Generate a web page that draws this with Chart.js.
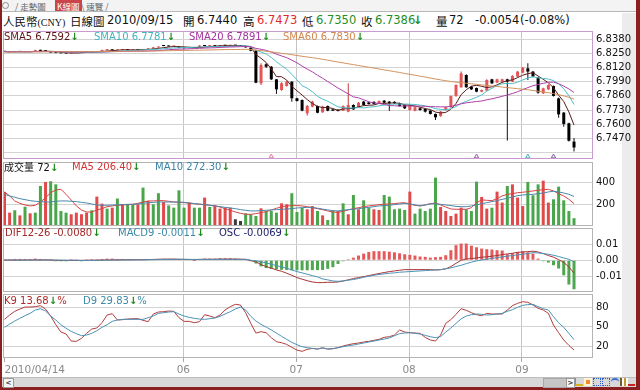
<!DOCTYPE html>
<html>
<head>
<meta charset="utf-8">
<script src="https://cdn.jsdelivr.net/npm/chart.js@4.4.1/dist/chart.umd.min.js"></script>
<style>
  html, body { margin: 0; padding: 0; }
  body { width: 640px; height: 390px; position: relative; overflow: hidden; background: #8a1f1f; font-family: "DejaVu Sans", sans-serif; }
  .abs { position: absolute; }
  #bg { left: 2px; top: 0; width: 634px; height: 387px; background: #fff; }
  #strip { left: 622px; top: 13px; width: 14px; height: 364px; background: #ececec; }
  #tabbar { left: 2px; top: 0; width: 634px; height: 11px; background: #f3f3f3; border-bottom: 1px solid #b9b9b9; }
  .tab { position: absolute; top: 0; height: 11px; line-height: 11px; font: 8.5px "Noto Sans CJK TC", sans-serif; color: #666; white-space: nowrap; }
  .tab.act { background: #c9454a; color: #fff; padding: 0 2px; }
  .hd { position: absolute; top: 13px; line-height: 14px; white-space: nowrap; color: #111; }
  .num { font: 11.5px "DejaVu Sans", sans-serif; }
  .cjk { font: 11.5px "Noto Sans CJK TC", sans-serif; }
  .lg { position: absolute; font: 10px "DejaVu Sans", sans-serif; line-height: 12px; white-space: nowrap; }
  .lg .c { font-family: "Noto Sans CJK TC", sans-serif; }
  .dn { color: #1b8a1b; font-weight: bold; }
  canvas { position: absolute; left: 3px; }
  #sb { left: 2px; top: 377px; width: 634px; height: 10px; background: #d8d8d8; border-top: 1px solid #bdbdbd; box-sizing: border-box; }
  .btn { position: absolute; top: 378px; height: 8px; background: #f6f6f6; border: 1px solid #9a9a9a; font: bold 7px "DejaVu Sans", sans-serif; line-height: 8px; text-align: center; color: #333; }
  .ic { position: absolute; top: 378px; width: 8px; height: 8px; box-sizing: border-box; }
</style>
</head>
<body>
<div id="bg" class="abs"></div>
<div id="strip" class="abs"></div>
<div id="tabbar" class="abs"></div>
<div class="abs" style="left:2px;top:2px;width:5px;height:5px;border:1px solid #8a8a8a;border-radius:50%;"></div>
<span class="tab" style="left:15px;">/ 走勢圖</span>
<span class="tab act" style="left:55px;">K線圖</span>
<span class="tab" style="left:81px;">\ 速覽 /</span>

<!-- header line -->
<span class="hd cjk" style="left:3px;">人民幣<span style="font:10px 'Liberation Serif',serif;">(CNY)</span></span>
<span class="hd cjk" style="left:70px;">日線圖</span>
<span class="hd num" style="left:107px;">2010/09/15</span>
<span class="hd cjk" style="left:183px;">開</span>
<span class="hd num" style="left:197px;">6.7440</span>
<span class="hd cjk" style="left:243px;">高</span>
<span class="hd num" style="left:257px;color:#dd2b2b;">6.7473</span>
<span class="hd cjk" style="left:302px;">低</span>
<span class="hd num" style="left:316px;color:#1f8f1f;">6.7350</span>
<span class="hd cjk" style="left:361px;">收</span>
<span class="hd num" style="left:375px;color:#1f8f1f;">6.7386</span>
<span class="hd num dn" style="left:413px;">↓</span>
<span class="hd cjk" style="left:436px;">量</span>
<span class="hd num" style="left:449px;">72</span>
<span class="hd num" style="left:475px;">-0.0054</span>
<span class="hd num" style="left:520px;">(-0.08%)</span>

<canvas id="cPrice" width="632" height="128" style="top:31px;width:632px;height:128px;"></canvas>
<canvas id="cVol" width="632" height="64" style="top:162px;width:632px;height:64px;"></canvas>
<canvas id="cMacd" width="632" height="64" style="top:228px;width:632px;height:64px;"></canvas>
<canvas id="cKd" width="632" height="84" style="top:294px;width:632px;height:84px;"></canvas>

<!-- panel legends -->
<span class="lg" style="left:4px;top:31px;color:#5e1414;">SMA5 6.7592<span class="dn">↓</span></span>
<span class="lg" style="left:94px;top:31px;color:#3fb5c0;">SMA10 6.7781<span class="dn">↓</span></span>
<span class="lg" style="left:189px;top:31px;color:#a3339d;">SMA20 6.7891<span class="dn">↓</span></span>
<span class="lg" style="left:283px;top:31px;color:#d3874f;">SMA60 6.7830<span class="dn">↓</span></span>

<span class="lg" style="left:4px;top:161px;color:#111;"><span class="c">成交量</span> 72<span class="dn">↓</span></span>
<span class="lg" style="left:72px;top:161px;color:#d23434;">MA5 206.40<span class="dn">↓</span></span>
<span class="lg" style="left:155px;top:161px;color:#3c82a6;">MA10 272.30<span class="dn">↓</span></span>

<span class="lg" style="left:5px;top:227px;color:#a32a2a;">DIF12-26 -0.0080<span class="dn">↓</span></span>
<span class="lg" style="left:118px;top:227px;color:#3c8aa8;">MACD9 -0.0011<span class="dn">↓</span></span>
<span class="lg" style="left:219px;top:227px;color:#23236e;">OSC -0.0069<span class="dn">↓</span></span>

<span class="lg" style="left:4px;top:295px;color:#b02a2a;">K9 13.68<span class="dn">↓</span>%</span>
<span class="lg" style="left:83px;top:295px;color:#3c8aa8;">D9 29.83<span class="dn">↓</span>%</span>

<!-- bottom scroll bar -->
<div id="sb" class="abs"></div>
<div class="btn" style="left:3px;width:9px;">&lt;</div>
<div class="abs" style="left:543px;top:378px;width:22px;height:8px;background:#c6c6c6;border:1px solid #a8a8a8;"></div>
<div class="btn" style="left:566px;width:7px;">&gt;</div>
<div class="ic" style="left:575px;border-bottom:2px solid #d6b21f;border-left:1px solid #7aa63a;"></div>
<div class="ic" style="left:584px;background:#f08a2a;border:2px solid #fff3d8;"></div>
<div class="ic" style="left:593px;border:1px dotted #2a5bd0;"></div>
<div class="ic" style="left:602px;border:1px dotted #2a5bd0;"></div>
<div class="ic" style="left:611px;border-top:2px solid #3a6bd6;border-radius:50% 50% 0 0;"></div>
<div class="ic" style="left:620px;background:linear-gradient(90deg,#7a5b22 0 2px,#fff 2px 4px,#c29a2a 4px 6px,#fff 6px);"></div>
<div class="ic" style="left:628px;width:7px;border-bottom:2px solid #cc2222;"></div>

<script>
// ---- data (2010/04/14 .. 2010/09/15, one entry per trading day) ----
const opens = [
  6.8268, 6.8265, 6.8262, 6.8267, 6.8263, 6.8266, 6.8268, 6.8281, 6.8275, 6.8268,
  6.8258, 6.8255, 6.8256, 6.8251, 6.8255, 6.8258, 6.8263, 6.8266, 6.8262, 6.8270,
  6.8280, 6.8285, 6.8278, 6.8282, 6.8286, 6.8280, 6.8284, 6.8281, 6.8288, 6.8296,
  6.8304, 6.8322, 6.8319, 6.8314, 6.8312, 6.8302, 6.8298, 6.8304, 6.8305, 6.8325,
  6.8318, 6.8320, 6.8317, 6.8323, 6.8321, 6.8324, 6.8322, 6.8318,
  6.8300, 6.8275, 6.7976, 6.8150, 6.8128, 6.8012, 6.7914, 6.7951, 6.7990, 6.7838,
  6.7822, 6.7700, 6.7761, 6.7767,
  6.7709, 6.7767, 6.7736, 6.7733, 6.7724, 6.7715, 6.7776, 6.7755, 6.7807, 6.7800,
  6.7805, 6.7791, 6.7816, 6.7807, 6.7805, 6.7791, 6.7776, 6.7730, 6.7724, 6.7746,
  6.7739, 6.7724, 6.7694, 6.7675, 6.7730, 6.7755, 6.7859, 6.7939, 6.8052, 6.7945,
  6.7932, 6.7899, 6.7908, 6.8012, 6.7982, 6.7991, 6.8012, 6.7991, 6.8037, 6.8073,
  6.8113, 6.8083, 6.8028, 6.7883, 6.7920, 6.7951, 6.7837, 6.7706, 6.7608, 6.7440
];
const highs = [
  6.8270, 6.8267, 6.8270, 6.8269, 6.8268, 6.8268, 6.8284, 6.8283, 6.8277, 6.8270,
  6.8261, 6.8258, 6.8258, 6.8259, 6.8261, 6.8266, 6.8268, 6.8268, 6.8270, 6.8284,
  6.8288, 6.8287, 6.8286, 6.8289, 6.8288, 6.8287, 6.8286, 6.8291, 6.8299, 6.8308,
  6.8313, 6.8325, 6.8321, 6.8319, 6.8314, 6.8304, 6.8306, 6.8306, 6.8326, 6.8327,
  6.8323, 6.8322, 6.8326, 6.8325, 6.8327, 6.8326, 6.8324, 6.8320,
  6.8305, 6.8282, 6.8159, 6.8160, 6.8135, 6.8015, 6.7985, 6.8000, 6.7995, 6.7842,
  6.7827, 6.7775, 6.7815, 6.7772,
  6.7770, 6.7772, 6.7742, 6.7738, 6.7772, 6.7975, 6.7782, 6.7803, 6.7812, 6.7806,
  6.7810, 6.7818, 6.7821, 6.7812, 6.7810, 6.7796, 6.7781, 6.7782, 6.7760, 6.7751,
  6.7744, 6.7729, 6.7699, 6.7720, 6.7760, 6.7864, 6.7966, 6.8083, 6.8058, 6.7950,
  6.7937, 6.7919, 6.8012, 6.8018, 6.8018, 6.8018, 6.8018, 6.8049, 6.8089, 6.8125,
  6.8159, 6.8088, 6.8033, 6.7935, 6.7966, 6.7956, 6.7845, 6.7712, 6.7613, 6.7473
];
const lows = [
  6.8262, 6.8260, 6.8261, 6.8262, 6.8261, 6.8261, 6.8266, 6.8272, 6.8268, 6.8255,
  6.8252, 6.8249, 6.8247, 6.8249, 6.8253, 6.8256, 6.8261, 6.8259, 6.8260, 6.8268,
  6.8278, 6.8276, 6.8276, 6.8280, 6.8277, 6.8278, 6.8279, 6.8279, 6.8286, 6.8294,
  6.8302, 6.8316, 6.8311, 6.8312, 6.8298, 6.8295, 6.8296, 6.8297, 6.8303, 6.8315,
  6.8316, 6.8314, 6.8315, 6.8318, 6.8319, 6.8319, 6.8315, 6.8303,
  6.8270, 6.7976, 6.7960, 6.8116, 6.8005, 6.7877, 6.7908, 6.7945, 6.7807, 6.7808,
  6.7718, 6.7680, 6.7756, 6.7700,
  6.7705, 6.7718, 6.7720, 6.7716, 6.7720, 6.7710, 6.7730, 6.7750, 6.7770, 6.7780,
  6.7780, 6.7786, 6.7792, 6.7721, 6.7786, 6.7762, 6.7740, 6.7725, 6.7718, 6.7724,
  6.7708, 6.7688, 6.7638, 6.7668, 6.7725, 6.7750, 6.7853, 6.7934, 6.7934, 6.7915,
  6.7894, 6.7894, 6.7903, 6.7970, 6.7977, 6.7986, 6.7450, 6.7986, 6.8032, 6.8068,
  6.8006, 6.8030, 6.7880, 6.7878, 6.7915, 6.7855, 6.7660, 6.7577, 6.7440, 6.7350
];
const closes = [
  6.8265, 6.8262, 6.8268, 6.8264, 6.8266, 6.8263, 6.8280, 6.8274, 6.8270, 6.8258,
  6.8255, 6.8252, 6.8250, 6.8256, 6.8258, 6.8264, 6.8266, 6.8262, 6.8268, 6.8281,
  6.8285, 6.8279, 6.8283, 6.8286, 6.8280, 6.8284, 6.8281, 6.8288, 6.8296, 6.8305,
  6.8310, 6.8318, 6.8314, 6.8316, 6.8302, 6.8298, 6.8304, 6.8300, 6.8322, 6.8318,
  6.8320, 6.8317, 6.8323, 6.8321, 6.8324, 6.8322, 6.8318, 6.8306,
  6.8275, 6.7981, 6.8144, 6.8128, 6.8012, 6.7920, 6.7976, 6.7990, 6.7838, 6.7813,
  6.7724, 6.7767, 6.7807, 6.7705,
  6.7761, 6.7724, 6.7724, 6.7722, 6.7767, 6.7776, 6.7736, 6.7797, 6.7776, 6.7785,
  6.7785, 6.7813, 6.7797, 6.7791, 6.7791, 6.7767, 6.7746, 6.7776, 6.7755, 6.7730,
  6.7715, 6.7694, 6.7663, 6.7715, 6.7755, 6.7859, 6.7960, 6.8067, 6.7939, 6.7920,
  6.7899, 6.7914, 6.8006, 6.7975, 6.8012, 6.8012, 6.7991, 6.8043, 6.8083, 6.8119,
  6.8083, 6.8037, 6.7890, 6.7929, 6.7960, 6.7860, 6.7690, 6.7602, 6.7448, 6.7386
];
const sma5 = [
  6.8266, 6.8265, 6.8265, 6.8265, 6.8265, 6.8265, 6.8268, 6.8269, 6.8271, 6.8269,
  6.8267, 6.8262, 6.8257, 6.8254, 6.8254, 6.8256, 6.8259, 6.8261, 6.8264, 6.8268,
  6.8272, 6.8275, 6.8279, 6.8283, 6.8283, 6.8282, 6.8283, 6.8284, 6.8286, 6.8291,
  6.8296, 6.8303, 6.8309, 6.8313, 6.8312, 6.8310, 6.8307, 6.8304, 6.8305, 6.8308,
  6.8313, 6.8315, 6.8320, 6.8320, 6.8321, 6.8321, 6.8322, 6.8318,
  6.8309, 6.8240, 6.8205, 6.8167, 6.8108, 6.8037, 6.8036, 6.8005, 6.7947, 6.7907,
  6.7868, 6.7826, 6.7790, 6.7763,
  6.7753, 6.7753, 6.7744, 6.7727, 6.7740, 6.7743, 6.7745, 6.7760, 6.7770, 6.7774,
  6.7776, 6.7791, 6.7791, 6.7794, 6.7795, 6.7792, 6.7778, 6.7774, 6.7767, 6.7755,
  6.7744, 6.7734, 6.7711, 6.7703, 6.7708, 6.7737, 6.7790, 6.7871, 6.7916, 6.7949,
  6.7957, 6.7948, 6.7936, 6.7943, 6.7961, 6.7984, 6.7999, 6.8007, 6.8028, 6.8050,
  6.8064, 6.8073, 6.8042, 6.8012, 6.7980, 6.7935, 6.7866, 6.7808, 6.7712, 6.7592
];
const sma10 = [
  6.8266, 6.8266, 6.8265, 6.8265, 6.8265, 6.8266, 6.8267, 6.8267, 6.8268, 6.8267,
  6.8266, 6.8265, 6.8263, 6.8263, 6.8262, 6.8262, 6.8261, 6.8259, 6.8259, 6.8261,
  6.8264, 6.8267, 6.8270, 6.8274, 6.8276, 6.8277, 6.8279, 6.8282, 6.8285, 6.8287,
  6.8289, 6.8293, 6.8297, 6.8300, 6.8302, 6.8303, 6.8305, 6.8307, 6.8309, 6.8310,
  6.8312, 6.8311, 6.8312, 6.8313, 6.8315, 6.8317, 6.8319, 6.8319,
  6.8315, 6.8281, 6.8263, 6.8245, 6.8213, 6.8173, 6.8138, 6.8105, 6.8057, 6.8008,
  6.7953, 6.7931, 6.7898, 6.7855,
  6.7830, 6.7811, 6.7785, 6.7759, 6.7752, 6.7748, 6.7749, 6.7752, 6.7749, 6.7757,
  6.7760, 6.7768, 6.7776, 6.7782, 6.7785, 6.7784, 6.7785, 6.7783, 6.7781, 6.7775,
  6.7768, 6.7756, 6.7743, 6.7735, 6.7732, 6.7741, 6.7762, 6.7791, 6.7810, 6.7829,
  6.7847, 6.7869, 6.7904, 6.7930, 6.7955, 6.7971, 6.7974, 6.7972, 6.7986, 6.8006,
  6.8024, 6.8036, 6.8025, 6.8020, 6.8015, 6.8000, 6.7970, 6.7925, 6.7862, 6.7781
];
const sma20 = [
  6.8267, 6.8267, 6.8266, 6.8266, 6.8266, 6.8266, 6.8267, 6.8267, 6.8267, 6.8266,
  6.8266, 6.8266, 6.8264, 6.8264, 6.8264, 6.8264, 6.8264, 6.8263, 6.8264, 6.8264,
  6.8265, 6.8266, 6.8267, 6.8269, 6.8269, 6.8270, 6.8270, 6.8271, 6.8272, 6.8274,
  6.8277, 6.8280, 6.8284, 6.8287, 6.8289, 6.8290, 6.8292, 6.8295, 6.8297, 6.8299,
  6.8301, 6.8302, 6.8305, 6.8307, 6.8309, 6.8310, 6.8312, 6.8313,
  6.8312, 6.8296, 6.8288, 6.8278, 6.8263, 6.8243, 6.8227, 6.8211, 6.8188, 6.8164,
  6.8134, 6.8106, 6.8081, 6.8050,
  6.8022, 6.7992, 6.7962, 6.7932, 6.7905, 6.7878, 6.7851, 6.7842, 6.7824, 6.7806,
  6.7795, 6.7790, 6.7781, 6.7771, 6.7769, 6.7766, 6.7767, 6.7768, 6.7765, 6.7766,
  6.7764, 6.7762, 6.7760, 6.7759, 6.7759, 6.7763, 6.7774, 6.7787, 6.7796, 6.7802,
  6.7808, 6.7813, 6.7824, 6.7833, 6.7844, 6.7856, 6.7868, 6.7882, 6.7898, 6.7918,
  6.7936, 6.7953, 6.7965, 6.7975, 6.7985, 6.7986, 6.7972, 6.7949, 6.7924, 6.7891
];
const sma60 = [
  6.8262, 6.8262, 6.8263, 6.8263, 6.8263, 6.8264, 6.8264, 6.8264, 6.8265, 6.8265,
  6.8265, 6.8265, 6.8265, 6.8266, 6.8266, 6.8266, 6.8266, 6.8267, 6.8267, 6.8267,
  6.8268, 6.8268, 6.8269, 6.8269, 6.8270, 6.8270, 6.8271, 6.8271, 6.8272, 6.8273,
  6.8273, 6.8274, 6.8275, 6.8276, 6.8277, 6.8277, 6.8278, 6.8279, 6.8280, 6.8281,
  6.8282, 6.8283, 6.8284, 6.8285, 6.8286, 6.8286, 6.8287, 6.8288,
  6.8286, 6.8280, 6.8276, 6.8270, 6.8264, 6.8258, 6.8251, 6.8245, 6.8238, 6.8231,
  6.8224, 6.8217, 6.8211, 6.8204,
  6.8196, 6.8188, 6.8179, 6.8171, 6.8163, 6.8155, 6.8147, 6.8139, 6.8131, 6.8123,
  6.8115, 6.8107, 6.8099, 6.8091, 6.8083, 6.8075, 6.8066, 6.8058, 6.8050, 6.8041,
  6.8033, 6.8024, 6.8015, 6.8007, 6.7999, 6.7992, 6.7986, 6.7981, 6.7976, 6.7971,
  6.7966, 6.7961, 6.7956, 6.7951, 6.7946, 6.7941, 6.7936, 6.7931, 6.7926, 6.7921,
  6.7916, 6.7910, 6.7903, 6.7896, 6.7889, 6.7881, 6.7871, 6.7860, 6.7847, 6.7830
];

const volume = [
  314, 123, 145, 98, 178, 117, 123, 369, 406, 412,
  384, 138, 123, 108, 123, 108, 123, 145, 271, 206,
  160, 169, 253, 200, 200, 200, 200, 354, 230, 200,
  302, 222, 190, 169, 329, 169, 216, 169, 169, 262,
  175, 190, 160, 169, 169, 62, 46, 117, 108, 92,
  163, 138, 138, 123, 209, 200, 302, 129, 166, 154,
  184, 138,
  98, 55, 138, 138, 209, 108, 286, 154, 237, 169,
  154, 148, 286, 271, 154, 160, 148, 317, 114, 160,
  138, 160, 446, 175, 138, 92, 114, 169, 154, 138,
  409, 268, 160, 169, 317, 216, 369, 384, 262, 184,
  406, 283, 384, 418, 216, 246, 363, 237, 138, 72
];
// u = up (red), d = down (green), n = unchanged
const volumeDir = [
  'u','u','d','u','d','u','d','d','u','d',
  'd','d','d','u','u','u','u','d','u','u',
  'd','u','d','u','d','d','u','d','u','d',
  'd','u','d','d','d','d','u','d','d','u',
  'd','u','u','u','u','n','n','d','d','d',
  'u','d','d','d','u','u','d','d','d','u',
  'u','d',
  'u','d','d','u','d','u','d','u','d','d',
  'u','u','d','d','d','d','d','u','d','d',
  'd','d','d','u','u','u','u','u','d','d',
  'd','u','u','d','u','u','d','u','u','u',
  'd','d','d','u','u','d','d','d','d','d'
];
const volMa5 = [
  314, 277, 231, 209, 194, 185, 191, 221, 261, 307,
  332, 338, 292, 240, 185, 148, 129, 129, 148, 160,
  178, 185, 191, 194, 197, 200, 209, 221, 231, 231,
  234, 234, 228, 221, 218, 215, 212, 206, 200, 197,
  191, 185, 175, 160, 145, 129, 117, 108, 108, 114,
  123, 132, 148, 163, 178, 185, 188, 188, 185, 178,
  170, 160,
  150, 139, 129, 126, 135, 148, 160, 169, 178, 185,
  191, 197, 200, 203, 206, 212, 215, 203, 191, 185,
  194, 206, 212, 194, 175, 157, 154, 154, 154, 169,
  215, 240, 237, 234, 252, 277, 292, 298, 307, 311,
  317, 323, 329, 335, 338, 323, 298, 277, 246, 206.4
];
const volMa10 = [
  292, 277, 265, 252, 243, 234, 228, 225, 221, 221,
  228, 231, 231, 228, 225, 218, 212, 203, 194, 191,
  191, 194, 194, 197, 200, 200, 203, 209, 215, 218,
  221, 221, 221, 221, 221, 218, 212, 206, 203, 197,
  191, 185, 178, 172, 166, 160, 151, 145, 139, 139,
  142, 145, 148, 151, 154, 157, 160, 166, 169, 172,
  170, 164,
  156, 148, 142, 139, 145, 151, 154, 160, 166, 172,
  178, 185, 188, 191, 197, 203, 209, 203, 194, 185,
  194, 203, 206, 200, 194, 188, 181, 178, 178, 185,
  194, 206, 215, 225, 234, 246, 255, 267, 280, 286,
  289, 292, 298, 304, 314, 320, 314, 304, 292, 272.3
];

const dif = [
  0.0001, 0.0001, 0.0001, 0.0001, 0.0001, 0.0001, 0.0002, 0.0002, 0.0002, 0.0001,
  0.0000, -0.0001, -0.0001, -0.0001, -0.0001, -0.0001, 0.0000, 0.0000, 0.0000, 0.0001,
  0.0002, 0.0002, 0.0002, 0.0003, 0.0003, 0.0003, 0.0003, 0.0003, 0.0004, 0.0005,
  0.0006, 0.0007, 0.0007, 0.0007, 0.0006, 0.0005, 0.0005, 0.0004, 0.0005, 0.0006,
  0.0006, 0.0006, 0.0007, 0.0007, 0.0007, 0.0007, 0.0006, 0.0005,
  -0.0002, -0.0010, -0.0027, -0.0039, -0.0049, -0.0060, -0.0068, -0.0080, -0.0093, -0.0107,
  -0.0117, -0.0126, -0.0134, -0.0138,
  -0.0138, -0.0136, -0.0136, -0.0134, -0.0128, -0.0121, -0.0113, -0.0107, -0.0101, -0.0095,
  -0.0088, -0.0082, -0.0076, -0.0070, -0.0066, -0.0062, -0.0058, -0.0058, -0.0058, -0.0058,
  -0.0058, -0.0058, -0.0060, -0.0058, -0.0053, -0.0039, -0.0019, 0.0000, 0.0008, 0.0010,
  0.0014, 0.0019, 0.0021, 0.0025, 0.0029, 0.0035, 0.0039, 0.0043, 0.0049, 0.0051,
  0.0053, 0.0056, 0.0051, 0.0041, 0.0029, 0.0019, 0.0004, -0.0014, -0.0041, -0.0080
];
const macd9 = [
  0.0001, 0.0001, 0.0001, 0.0001, 0.0001, 0.0001, 0.0001, 0.0001, 0.0002, 0.0002,
  0.0001, 0.0001, 0.0000, 0.0000, 0.0000, -0.0001, -0.0001, -0.0001, 0.0000, 0.0000,
  0.0001, 0.0001, 0.0001, 0.0002, 0.0002, 0.0002, 0.0003, 0.0003, 0.0003, 0.0004,
  0.0004, 0.0005, 0.0005, 0.0006, 0.0006, 0.0006, 0.0005, 0.0005, 0.0005, 0.0005,
  0.0005, 0.0005, 0.0006, 0.0006, 0.0006, 0.0006, 0.0006, 0.0006,
  0.0000, -0.0004, -0.0010, -0.0016, -0.0025, -0.0033, -0.0041, -0.0049, -0.0060, -0.0070,
  -0.0078, -0.0086, -0.0095, -0.0103,
  -0.0115, -0.0121, -0.0128, -0.0130, -0.0128, -0.0123, -0.0119, -0.0113, -0.0105, -0.0099,
  -0.0093, -0.0088, -0.0084, -0.0080, -0.0078, -0.0074, -0.0072, -0.0070, -0.0068, -0.0066,
  -0.0064, -0.0062, -0.0060, -0.0058, -0.0053, -0.0047, -0.0039, -0.0031, -0.0021, -0.0012,
  -0.0004, 0.0002, 0.0006, 0.0012, 0.0016, 0.0021, 0.0025, 0.0029, 0.0033, 0.0037,
  0.0041, 0.0047, 0.0045, 0.0041, 0.0037, 0.0031, 0.0023, 0.0014, 0.0006, -0.0011
];
const osc = [
  0.0000, 0.0002, 0.0008, 0.0008, 0.0008, 0.0008, 0.0010, 0.0008, 0.0006, 0.0003,
  -0.0002, -0.0003, -0.0002, 0.0004, 0.0000, -0.0002, 0.0000, 0.0001, 0.0002, 0.0008,
  0.0010, 0.0010, 0.0008, 0.0008, 0.0006, 0.0004, 0.0002, 0.0003, 0.0004, 0.0006,
  0.0008, 0.0008, 0.0008, 0.0008, 0.0006, 0.0004, 0.0002, 0.0000, 0.0008, 0.0010,
  0.0010, 0.0010, 0.0012, 0.0012, 0.0012, 0.0010, 0.0008, 0.0002,
  -0.0002, -0.0020, -0.0038, -0.0048, -0.0053, -0.0057, -0.0059, -0.0060, -0.0062, -0.0062,
  -0.0062, -0.0062, -0.0061, -0.0061,
  -0.0060, -0.0053, -0.0043, -0.0023, -0.0006, 0.0004, 0.0016, 0.0029, 0.0041, 0.0051,
  0.0056, 0.0056, 0.0056, 0.0053, 0.0049, 0.0043, 0.0037, 0.0033, 0.0029, 0.0023,
  0.0021, 0.0016, 0.0019, 0.0021, 0.0031, 0.0062, 0.0093, 0.0103, 0.0103, 0.0090,
  0.0080, 0.0072, 0.0068, 0.0066, 0.0062, 0.0060, 0.0037, 0.0043, 0.0051, 0.0056,
  0.0049, 0.0041, 0.0010, -0.0006, -0.0014, -0.0031, -0.0051, -0.0093, -0.0150, -0.0179
];

const k9 = [
  61.3, 68.0, 73.7, 77.3, 80.4, 80.4, 81.0, 82.5, 77.3, 66.5,
  53.0, 41.7, 38.6, 27.7, 27.2, 31.8, 39.6, 46.3, 47.9, 56.1,
  68.0, 70.1, 60.3, 60.8, 61.8, 62.3, 62.3, 59.8, 57.7, 69.6,
  72.7, 73.2, 74.2, 73.7, 63.9, 58.2, 58.2, 56.1, 57.7, 68.5,
  66.5, 63.9, 68.0, 75.8, 81.0, 84.6, 83.5, 71.6, 55.1, 40.1,
  42.2, 40.6, 32.9, 26.7, 25.1, 22.5, 17.9, 13.7, 11.7, 14.8,
  16.3, 15.3,
  16.9, 15.3, 15.8, 17.4, 20.0, 22.0, 23.6, 24.6, 26.2, 27.2,
  28.7, 30.3, 33.4, 34.4, 37.0, 44.8, 41.7, 40.6, 40.1, 39.6,
  33.4, 29.3, 27.7, 37.0, 55.1, 60.8, 69.1, 77.8, 75.3, 71.6,
  68.5, 67.0, 70.6, 69.6, 69.6, 69.6, 75.8, 82.5, 86.1, 88.7,
  87.7, 83.5, 78.4, 75.8, 70.6, 52.5, 40.6, 29.3, 21.0, 13.68
];
const d9 = [
  48.9, 54.1, 58.7, 62.9, 67.0, 70.6, 75.8, 77.8, 74.2, 66.5,
  60.3, 53.0, 47.4, 42.7, 39.1, 36.0, 37.0, 39.6, 43.7, 48.9,
  53.0, 58.2, 60.3, 61.3, 61.3, 61.3, 61.3, 61.3, 63.9, 66.5,
  70.6, 71.6, 72.7, 73.2, 69.6, 66.5, 64.4, 62.9, 61.8, 61.3,
  62.3, 63.4, 66.0, 69.6, 73.2, 77.3, 80.4, 75.8, 66.0, 58.7,
  53.5, 49.4, 44.8, 40.1, 35.0, 30.3, 25.7, 22.0, 18.9, 17.4,
  16.3, 15.3,
  17.4, 15.3, 15.8, 17.4, 18.9, 20.5, 21.5, 23.1, 24.6, 26.2,
  27.7, 29.3, 30.8, 32.4, 36.0, 39.1, 40.1, 40.6, 39.6, 38.6,
  36.5, 34.4, 32.9, 34.5, 41.5, 48.0, 55.0, 62.0, 66.5, 68.5,
  69.6, 69.1, 68.0, 68.5, 69.6, 70.6, 73.7, 76.3, 79.9, 83.0,
  84.1, 84.6, 81.0, 77.8, 75.8, 65.5, 56.1, 48.9, 39.6, 29.83
];

// event markers under the candles
const markerIdx = [52, 92, 102, 107];

// x-axis: first day, then the first trading day of each month
const firstLabel = '2010/04/14';
const monthIdx = [35, 57, 79, 101];
const monthLabels = ['06', '07', '08', '09'];

// y-axis tick / grid values
const priceTicks = [6.734, 6.747, 6.760, 6.773, 6.786, 6.799, 6.812, 6.825, 6.838];
const volTicks = [200, 400];
const macdTicks = [-0.01, 0, 0.01];
const kdTicks = [20, 50, 80];

// ---- chart helpers ----
Chart.defaults.font.family = "'DejaVu Sans', sans-serif";

const X_MIN = -0.292, X_MAX = 114.70;
const GRID = '#d3d3d3';

const framePlugin = {
  id: 'frame',
  afterDraw(chart, args, opts) {
    const { ctx, chartArea: a } = chart;
    ctx.save();
    ctx.strokeStyle = opts.color;
    ctx.lineWidth = 1;
    ctx.strokeRect(Math.round(a.left) + 0.5, Math.round(a.top) + 0.5, Math.round(a.width) - 1, Math.round(a.height) - 1);
    ctx.restore();
  }
};

function xAxis(withLabels) {
  const gridAt = monthIdx.map((v) => v - 0.15);
  return {
    type: 'linear', min: X_MIN, max: X_MAX, offset: false,
    afterBuildTicks: (ax) => {
      const vals = withLabels ? [0, ...gridAt, X_MAX] : gridAt;
      ax.ticks = vals.map((v) => ({ value: v }));
    },
    ticks: {
      display: withLabels, autoSkip: false, maxRotation: 0, align: 'inner', padding: 2,
      color: '#8a8a8a', font: { size: 10.5 },
      callback: (v, i) => (i === 0 ? firstLabel : (monthLabels[i - 1] || ''))
    },
    grid: {
      offset: false, drawTicks: withLabels, tickLength: 4, lineWidth: 1,
      color: (c) => (withLabels && (c.index === 0 || c.index === monthIdx.length + 1) ? 'rgba(0,0,0,0)' : '#c6c6c6'),
      tickColor: (c) => (c.index === monthIdx.length + 1 ? 'rgba(0,0,0,0)' : '#a8a8a8')
    },
    border: { display: false },
    afterFit: (ax) => { ax.paddingLeft = 0; ax.paddingRight = 0; if (withLabels) ax.height = 20; }
  };
}

function yAxis(min, max, ticks, fmt) {
  return {
    position: 'right', min, max, beginAtZero: false,
    afterBuildTicks: (ax) => { ax.ticks = ticks.map((v) => ({ value: v })); },
    ticks: { autoSkip: false, padding: 3, color: '#111', font: { size: 10 }, callback: fmt },
    grid: { color: GRID, drawTicks: false, lineWidth: 1 },
    border: { display: false },
    afterFit: (ax) => { ax.width = 42; ax.paddingTop = 0; ax.paddingBottom = 0; }
  };
}

function options(y, frameColor, withLabels) {
  return {
    responsive: false, animation: false, devicePixelRatio: 1, events: [],
    layout: { padding: 0, autoPadding: false },
    plugins: { legend: { display: false }, tooltip: { enabled: false }, frame: { color: frameColor } },
    scales: { x: xAxis(withLabels), y }
  };
}

const pts = (arr) => arr.map((v, i) => ({ x: i, y: v }));
const line = (arr, color) => ({ type: 'line', data: pts(arr), borderColor: color, borderWidth: 1, pointRadius: 0, tension: 0, order: 0 });
const barSet = (data, colors, thick, extra = {}) => ({
  type: 'bar', data, backgroundColor: colors, barThickness: thick, grouped: false,
  borderWidth: 0, inflateAmount: 0, order: 1, ...extra
});

const isUp = opens.map((o, i) => closes[i] >= o);
const PRICE_MIN = 6.7280, PRICE_MAX = 6.8456;

// ---- price panel ----
new Chart(document.getElementById('cPrice'), {
  type: 'bar',
  data: {
    datasets: [
      line(sma60, '#d3925e'),
      line(sma20, '#b03ea8'),
      line(sma10, '#4cc0c8'),
      line(sma5, '#5a1a1a'),
      barSet(opens.map((o, i) => ({ x: i, y: [o, closes[i]] })), isUp.map((u) => (u ? '#e45656' : '#000000')), 3, { minBarLength: 1, order: 1 }),
      barSet(lows.map((l, i) => ({ x: i, y: [l, highs[i]] })), isUp.map((u) => (u ? '#c23a3a' : '#111111')), 1, { order: 2 }),
      {
        type: 'scatter', data: markerIdx.map((i) => ({ x: i, y: PRICE_MIN + 0.0022 })),
        pointStyle: 'triangle', pointRadius: 2.5, pointBorderWidth: 1,
        pointBorderColor: ['#e07a98', '#9a5aa0', '#3fb4c4', '#7c5a9c'], pointBackgroundColor: 'rgba(0,0,0,0)', order: 0
      }
    ]
  },
  options: options(yAxis(PRICE_MIN, PRICE_MAX, priceTicks, (v) => (v < 6.74 ? '' : v.toFixed(4))), '#c99bd0', false),
  plugins: [framePlugin]
});

// ---- volume panel ----
const volColor = { u: '#e04a4a', d: '#4aa64a', n: '#3c3c3c' };
new Chart(document.getElementById('cVol'), {
  type: 'bar',
  data: {
    datasets: [
      line(volMa10, '#4a88aa'),
      line(volMa5, '#d84444'),
      barSet(pts(volume), volumeDir.map((d) => volColor[d]), 3)
    ]
  },
  options: options(yAxis(0, 590, volTicks, (v) => String(v)), '#b4b4b4', false),
  plugins: [framePlugin]
});

// ---- MACD panel ----
new Chart(document.getElementById('cMacd'), {
  type: 'bar',
  data: {
    datasets: [
      line(macd9, '#4c92b6'),
      line(dif, '#a83434'),
      barSet(pts(osc), osc.map((v) => (v >= 0 ? '#e45a5a' : '#4ea64e')), 3, { minBarLength: 1 })
    ]
  },
  options: options(yAxis(-0.0196, 0.0199, macdTicks, (v) => v.toFixed(2)), '#b4b4b4', false),
  plugins: [framePlugin]
});

// ---- KD panel ----
new Chart(document.getElementById('cKd'), {
  type: 'line',
  data: {
    datasets: [
      line(d9, '#4c92b6'),
      line(k9, '#b43c3c')
    ]
  },
  options: options(yAxis(1.4, 100.6, kdTicks, (v) => String(v)), '#b4b4b4', true),
  plugins: [framePlugin]
});
</script>
</body>
</html>
